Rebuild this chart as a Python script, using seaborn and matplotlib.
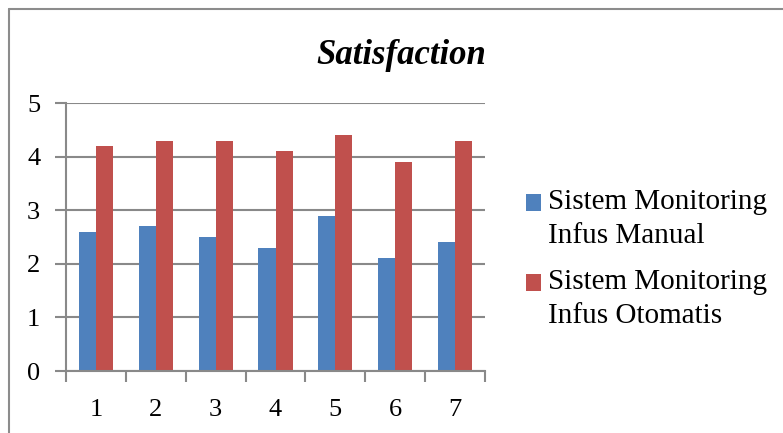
import matplotlib
matplotlib.use("Agg")
import matplotlib.pyplot as plt
import seaborn as sns
import pandas as pd
from matplotlib.patches import Patch, Rectangle
from matplotlib.lines import Line2D
from matplotlib.legend_handler import HandlerPatch
from matplotlib.ticker import FixedLocator

# Data
responden = ["1", "2", "3", "4", "5", "6", "7"]
manual = [2.6, 2.7, 2.5, 2.3, 2.9, 2.1, 2.4]
otomatis = [4.2, 4.3, 4.3, 4.1, 4.4, 3.9, 4.3]
series_names = ["Sistem Monitoring\nInfus Manual", "Sistem Monitoring\nInfus Otomatis"]
y_ticks = [0, 1, 2, 3, 4, 5]
title = "Satisfaction"

colors = ["#4F81BD", "#C0504D"]
grid_col = "#898989"

df = pd.DataFrame({
    "responden": responden * 2,
    "nilai": manual + otomatis,
    "sistem": [series_names[0]] * len(manual) + [series_names[1]] * len(otomatis),
})

sns.set_theme(style="white")
plt.rcParams["font.family"] = ["Liberation Serif", "DejaVu Serif"]
plt.rcParams["text.color"] = "black"
plt.rcParams["xtick.color"] = "black"
plt.rcParams["ytick.color"] = "black"

fig = plt.figure(figsize=(7.83, 4.33), dpi=100)
ax = fig.add_axes([66 / 783, 1 - 371 / 433, (485 - 66) / 783, (371 - 103) / 433])

sns.barplot(data=df, x="responden", y="nilai", hue="sistem", order=responden,
            hue_order=series_names, palette=colors, width=0.57, gap=0,
            saturation=1, ax=ax, legend=False, errorbar=None,
            linewidth=0)

ax.set_ylim(0, 5)
ax.set_xlim(-0.5, len(responden) - 0.5)
ax.set_yticks(y_ticks)
ax.set_yticklabels([str(t) for t in y_ticks])
ax.yaxis.grid(True, color=grid_col, linewidth=1.5)
ax.set_axisbelow(True)
ax.set_xlabel("")
ax.set_ylabel("")

for side in ["top", "right"]:
    ax.spines[side].set_visible(False)
for side in ["left", "bottom"]:
    ax.spines[side].set_color(grid_col)
    ax.spines[side].set_linewidth(1.5)

# category-boundary tick marks on the x axis
ax.xaxis.set_minor_locator(FixedLocator([i - 0.5 for i in range(len(responden) + 1)]))
ax.tick_params(axis="x", which="major", length=0, pad=20, labelsize=19, labelcolor="black")
ax.tick_params(axis="x", which="minor", bottom=True, length=8, width=1.5, color=grid_col, direction="out")
ax.tick_params(axis="y", which="major", left=True, length=8, width=1.5, color=grid_col,
               direction="out", pad=10.5, labelsize=19, labelcolor="black")

fig.text(0.513, 1 - 55 / 433, title, ha="center", va="center", color="black",
         fontsize=25, fontweight="bold", fontstyle="italic")


# legend keys sit beside the first line of each two-line label
def top_aligned_key(legend, orig_handle, xdescent, ydescent, width, height, fontsize):
    shift = 0.56 * fontsize
    return Rectangle((-xdescent, -ydescent + shift), width, height)


handles = [Patch(facecolor=c, edgecolor="none") for c in colors]
leg = fig.legend(handles, series_names, loc="center left", bbox_to_anchor=(526 / 783, 1 - 259 / 433),
                 frameon=False, fontsize=21, handlelength=0.5, handleheight=0.5,
                 handletextpad=0.25, labelspacing=0.68, borderaxespad=0, borderpad=0,
                 handler_map={Patch: HandlerPatch(patch_func=top_aligned_key)})
for t in leg.get_texts():
    t.set_linespacing(1.42)
    t.set_color("black")

# outer chart frame
fig.add_artist(Line2D([9 / 783, 9 / 783], [0, 1 - 9 / 433], transform=fig.transFigure,
                      color="#8c8c8c", linewidth=1.5))
fig.add_artist(Line2D([9 / 783, 1], [1 - 9 / 433, 1 - 9 / 433], transform=fig.transFigure,
                      color="#8c8c8c", linewidth=1.5))

fig.savefig("out.png", dpi=100, facecolor="white")
